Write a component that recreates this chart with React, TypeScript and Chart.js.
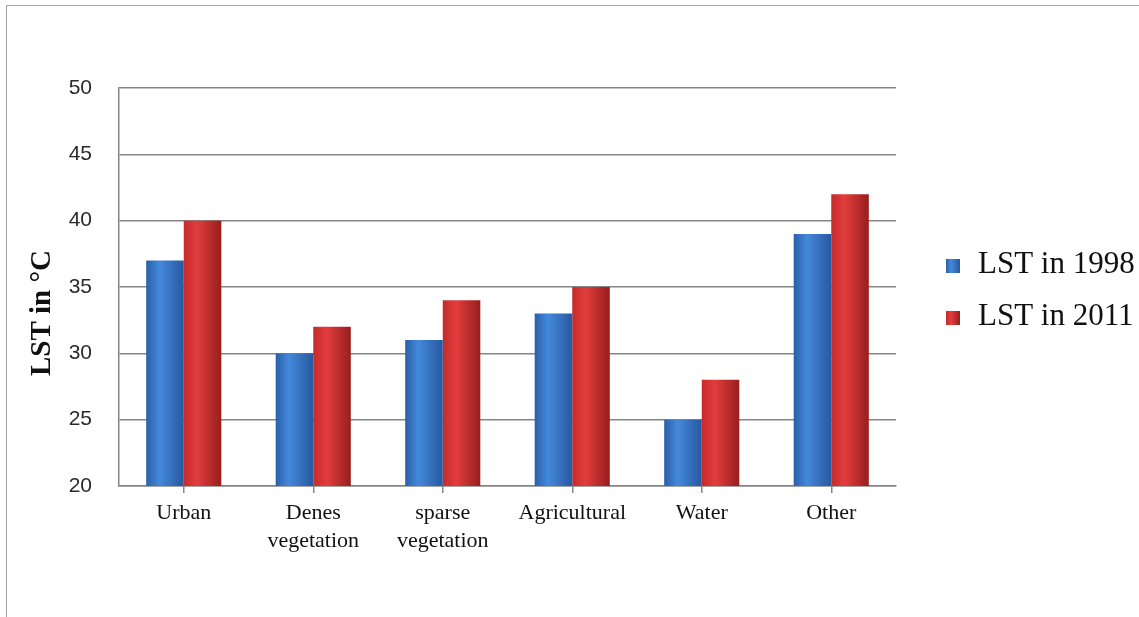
import React, { useEffect, useRef } from "react";
import { Chart, registerables } from "chart.js";

Chart.register(...registerables);

const categories: (string | string[])[] = [
  "Urban",
  ["Denes", "vegetation"],
  ["sparse", "vegetation"],
  "Agricultural",
  "Water",
  "Other",
];
const lst1998 = [37, 30, 31, 33, 25, 39];
const lst2011 = [40, 32, 34, 35, 28, 42];
const seriesLabels = ["LST in 1998", "LST in 2011"];
const yTitle = "LST in °C";
const yMin = 20;
const yMax = 50;
const yStep = 5;

const CAT_PCT = 0.58;

const blueStops: [number, string][] = [
  [0, "#2a5fa8"],
  [0.35, "#4389db"],
  [1, "#2858a0"],
];
const redStops: [number, string][] = [
  [0, "#c62a2a"],
  [0.35, "#e23d3d"],
  [1, "#981e1e"],
];

function barGradient(stops: [number, string][], solid: string) {
  return (ctx: any) => {
    const chart = ctx.chart;
    const xs = chart.scales?.x;
    if (!chart.chartArea || !xs || ctx.dataIndex === undefined) return solid;
    const center = xs.getPixelForValue(ctx.dataIndex);
    const catW = xs.width / categories.length;
    const pair = catW * CAT_PCT;
    const barW = pair / 2;
    const left = center - pair / 2 + ctx.datasetIndex * barW;
    if (!isFinite(left)) return solid;
    const g = chart.ctx.createLinearGradient(left, 0, left + barW, 0);
    stops.forEach(([o, c]) => g.addColorStop(o, c));
    return g;
  };
}

const extrasPlugin = {
  id: "extras",
  afterDraw(chart: any) {
    const { ctx, chartArea } = chart;
    // y-axis title
    ctx.save();
    ctx.translate(50, 313);
    ctx.rotate(-Math.PI / 2);
    ctx.font = 'bold 29px "Liberation Serif"';
    ctx.fillStyle = "#111";
    ctx.textAlign = "center";
    ctx.textBaseline = "alphabetic";
    ctx.fillText(yTitle, 0, 0);
    ctx.restore();

    // legend
    const boxX = chartArea.right + 50;
    const stopsArr = [blueStops, redStops];
    chart.data.datasets.forEach((ds: any, i: number) => {
      const base = 273 + 52 * i;
      const g = ctx.createLinearGradient(boxX, 0, boxX + 14, 0);
      stopsArr[i].forEach(([o, c]: [number, string]) => g.addColorStop(o, c));
      ctx.save();
      ctx.fillStyle = g;
      ctx.fillRect(boxX, base - 14, 14, 14);
      ctx.font = '31px "Liberation Serif"';
      ctx.fillStyle = "#111";
      ctx.textAlign = "left";
      ctx.textBaseline = "alphabetic";
      ctx.fillText(ds.label, boxX + 32, base);
      ctx.restore();
    });
  },
};

export default function App() {
  const ref = useRef<HTMLCanvasElement | null>(null);

  useEffect(() => {
    if (!ref.current) return;
    const chart = new Chart(ref.current, {
      type: "bar",
      data: {
        labels: categories as any,
        datasets: [
          {
            label: seriesLabels[0],
            data: lst1998,
            backgroundColor: barGradient(blueStops, "#3a78c8") as any,
            borderWidth: 0,
          },
          {
            label: seriesLabels[1],
            data: lst2011,
            backgroundColor: barGradient(redStops, "#cc2a2a") as any,
            borderWidth: 0,
          },
        ],
      },
      options: {
        animation: false,
        responsive: false,
        maintainAspectRatio: false,
        layout: { padding: { left: 0, top: 88, right: 1139 - 896, bottom: 0 } },
        datasets: {
          bar: { barPercentage: 1, categoryPercentage: CAT_PCT },
        },
        plugins: {
          legend: { display: false },
          tooltip: { enabled: false },
          title: { display: false },
        },
        scales: {
          x: {
            afterFit: (s: any) => {
              s.height = 617 - 486;
            },
            grid: {
              display: true,
              drawOnChartArea: false,
              drawTicks: true,
              tickLength: 7,
              offset: false,
              color: "#858585",
              lineWidth: 1.5,
            },
            border: { display: true, color: "#858585", width: 1.5 },
            ticks: {
              padding: 6,
              color: "#111",
              font: { family: '"Liberation Serif"', size: 22, lineHeight: 1.28 },
              maxRotation: 0,
              autoSkip: false,
            },
          },
          y: {
            min: yMin,
            max: yMax,
            afterFit: (s: any) => {
              s.width = 119;
            },
            grid: {
              color: "#858585",
              lineWidth: 1.5,
              drawTicks: false,
            },
            border: { display: true, color: "#858585", width: 1.5 },
            ticks: {
              stepSize: yStep,
              padding: 27,
              color: "#2a2a2a",
              font: { family: '"Liberation Sans"', size: 21 },
            },
          },
        },
      },
      plugins: [extrasPlugin],
    });
    return () => chart.destroy();
  }, []);

  return (
    <div
      style={{
        position: "relative",
        width: 1139,
        height: 617,
        overflow: "hidden",
        background: "#fff",
      }}
    >
      <style>{`body{margin:0;}`}</style>
      <div
        style={{
          position: "absolute",
          left: 6,
          top: 5,
          width: 1300,
          height: 800,
          borderTop: "1.5px solid #a3a3a3",
          borderLeft: "1.5px solid #a3a3a3",
        }}
      />
      <canvas
        ref={ref}
        width={1139}
        height={617}
        style={{ position: "absolute", left: 0, top: 0 }}
      />
    </div>
  );
}
